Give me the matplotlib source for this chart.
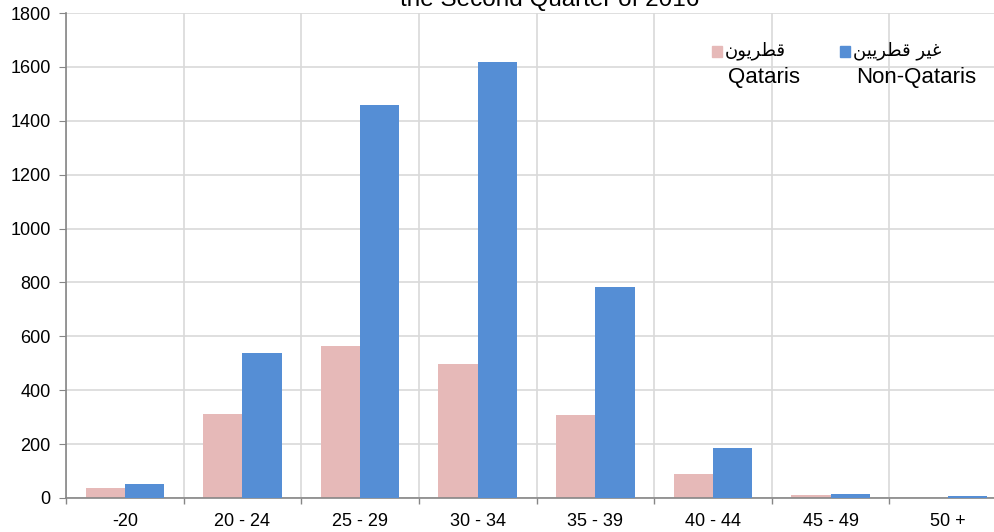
import numpy as np
import matplotlib.pyplot as plt
from matplotlib.patches import Rectangle

plt.rcParams["font.family"] = ["Liberation Sans", "DejaVu Sans"]

age_groups = ["-20", "20 - 24", "25 - 29", "30 - 34", "35 - 39", "40 - 44", "45 - 49", "50 +"]
qataris = [37, 312, 564, 497, 308, 89, 12, 1]
non_qataris = [52, 538, 1458, 1618, 783, 186, 14, 6]

# Arabic legend labels, written in presentation forms (visual order) since
# matplotlib does not shape or reorder right-to-left text
label_qataris_ar = "\ufee5\ufeee\ufef3\ufeae\ufec4\ufed7"      # قطريون
label_non_qataris_ar = "\ufee6\ufef4\ufef3\ufeae\ufec4\ufed7 \ufeae\ufef4\ufecf"  # غير قطريين

PINK = "#E6B9B8"
BLUE = "#558ED5"
GRID = "#D9D9D9"
AXIS = "#868686"

W, H = 995, 532
fig = plt.figure(figsize=(W / 100, H / 100), dpi=100)
ax = fig.add_axes([66 / W, 1 - 498 / H, 941 / W, 485 / H])

x = np.arange(len(age_groups))
bar_w = 1 / 3
ax.bar(x - bar_w / 2, qataris, width=bar_w, color=PINK, zorder=3)
ax.bar(x + bar_w / 2, non_qataris, width=bar_w, color=BLUE, zorder=5)

ax.set_xlim(-0.5, len(age_groups) - 0.5)
ax.set_ylim(0, 1800)
ax.set_yticks(np.arange(0, 1801, 200))

ax.set_xticks(x)
ax.set_xticklabels(age_groups, fontsize=13)
ax.set_xticks(np.arange(-0.5, len(age_groups), 1), minor=True)
ax.tick_params(axis="x", which="major", length=0, pad=11)
ax.tick_params(axis="x", which="minor", length=4.5, color=AXIS, width=1)
ax.tick_params(axis="y", length=5, color=AXIS, labelsize=13, pad=6)

ax.grid(axis="y", color=GRID, linewidth=1.2, zorder=0)
ax.grid(axis="x", which="minor", color=GRID, linewidth=1.2, zorder=0)

for side in ["top", "right"]:
    ax.spines[side].set_visible(False)
for side in ["left", "bottom"]:
    ax.spines[side].set_color(AXIS)
    ax.spines[side].set_linewidth(1.2)
ax.spines["bottom"].set_zorder(4)

# title, mostly cropped at the top edge in the original
fig.text(550 / W, 1 - 6 / H, "the Second Quarter of 2016", ha="center",
         va="baseline", fontsize=17.5)

# legend
fig.patches.append(Rectangle((712 / W, 1 - 57 / H), 10 / W, 11 / H,
                             transform=fig.transFigure, color=PINK))
fig.patches.append(Rectangle((840 / W, 1 - 57 / H), 10 / W, 11 / H,
                             transform=fig.transFigure, color=BLUE))
fig.text(725 / W, 1 - 51 / H, label_qataris_ar, ha="left", va="center",
         fontsize=13, family=["DejaVu Sans"])
fig.text(853 / W, 1 - 51 / H, label_non_qataris_ar, ha="left", va="center",
         fontsize=13, family=["DejaVu Sans"])
fig.text(764 / W, 1 - 78 / H, "Qataris", ha="center", va="center", fontsize=16)
fig.text(916 / W, 1 - 78 / H, "Non-Qataris", ha="center", va="center", fontsize=16)

fig.savefig("out.png", dpi=100)
